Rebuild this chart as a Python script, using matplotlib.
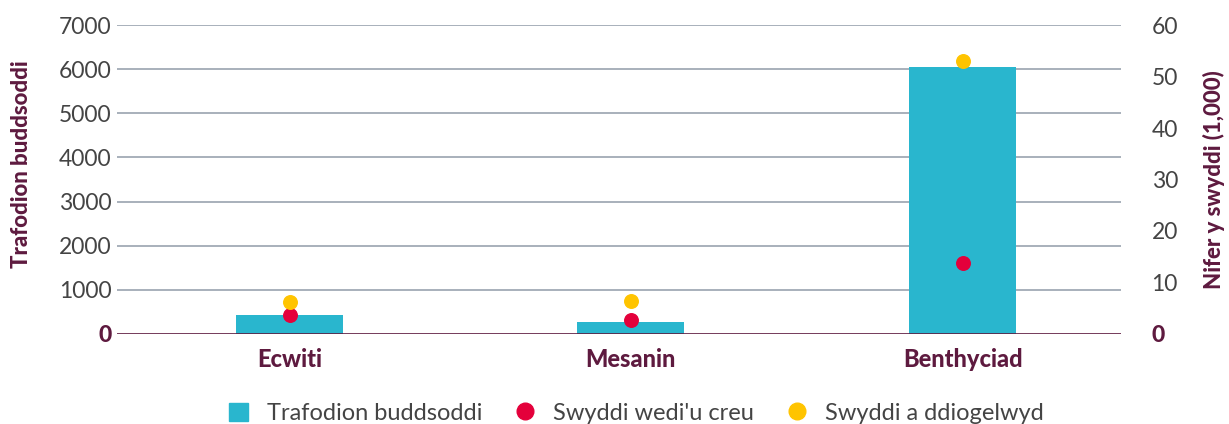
import matplotlib.pyplot as plt
from matplotlib.lines import Line2D
from matplotlib.patches import Patch

categories = ["Ecwiti", "Mesanin", "Benthyciad"]
deals = [430, 270, 6050]            # Trafodion buddsoddi (left axis)
jobs_created = [3.7, 2.8, 13.8]     # Swyddi wedi'u creu (1,000)
jobs_safe = [6.3, 6.5, 53.0]        # Swyddi a ddiogelwyd (1,000)
left_ticks = [0, 1000, 2000, 3000, 4000, 5000, 6000, 7000]
right_ticks = [0, 10, 20, 30, 40, 50, 60]

teal = "#29B6CE"
red = "#E4003B"
yellow = "#FFC400"
maroon = "#5E1A3F"
grey = "#444444"
gridc = "#9AA3AF"

plt.rcParams['font.family'] = ['Lato', 'DejaVu Sans']

fig = plt.figure(figsize=(12.29, 4.24), dpi=100)
ax = fig.add_axes([0.0952, 0.2123, 0.8169, 0.7287])
ax2 = ax.twinx()

x = [0, 1.013, 2]
ax.bar(x, deals, width=0.318, color=teal, zorder=2)
for t in left_ticks[1:]:
    ax.axhline(t, color=gridc, lw=1.2, zorder=1)
ax.axhline(0, color=maroon, lw=1.2, zorder=3)
ax.set_ylim(0, 7000)
ax.set_xlim(-0.514, 2.47)
ax.set_yticks(left_ticks)
ax.set_yticklabels([str(t) for t in left_ticks])

ax2.scatter(x, jobs_created, s=95, color=red, zorder=4)
ax2.scatter(x, jobs_safe, s=95, color=yellow, zorder=4)
ax2.set_ylim(0, 60)
ax2.set_yticks(right_ticks)
ax2.set_yticklabels([str(t) for t in right_ticks])

for a in (ax, ax2):
    for s in a.spines.values():
        s.set_visible(False)
    a.tick_params(length=0, labelsize=16.5, labelcolor=grey)
ax.tick_params(axis='y', pad=4)
ax2.tick_params(axis='y', pad=22)
for lbls in (ax.get_yticklabels(), ax2.get_yticklabels()):
    lbls[0].set_color(maroon)
    lbls[0].set_fontweight('black')

ax.set_xticks(x)
ax.set_xticklabels(categories, fontsize=17, fontweight='black', color=maroon)
ax.tick_params(axis='x', pad=10)

ax.set_ylabel("Trafodion buddsoddi", fontsize=16, fontweight='black', color=maroon)
ax2.set_ylabel("Nifer y swyddi (1,000)", fontsize=16, fontweight='black', color=maroon, labelpad=18)
ax.yaxis.set_label_coords(-0.085, 0.55)

handles = [
    Patch(color=teal, label="Trafodion buddsoddi"),
    Line2D([], [], marker='o', ls='', color=red, markersize=12, label="Swyddi wedi'u creu"),
    Line2D([], [], marker='o', ls='', color=yellow, markersize=12, label="Swyddi a ddiogelwyd"),
]
leg = fig.legend(handles=handles, loc='lower center', bbox_to_anchor=(0.518, -0.05), ncol=3,
                 frameon=False, fontsize=17, handlelength=0.8, handleheight=0.8,
                 handletextpad=0.8, columnspacing=1.4)
for t in leg.get_texts():
    t.set_color(grey)

fig.savefig("out.png", dpi=100)
